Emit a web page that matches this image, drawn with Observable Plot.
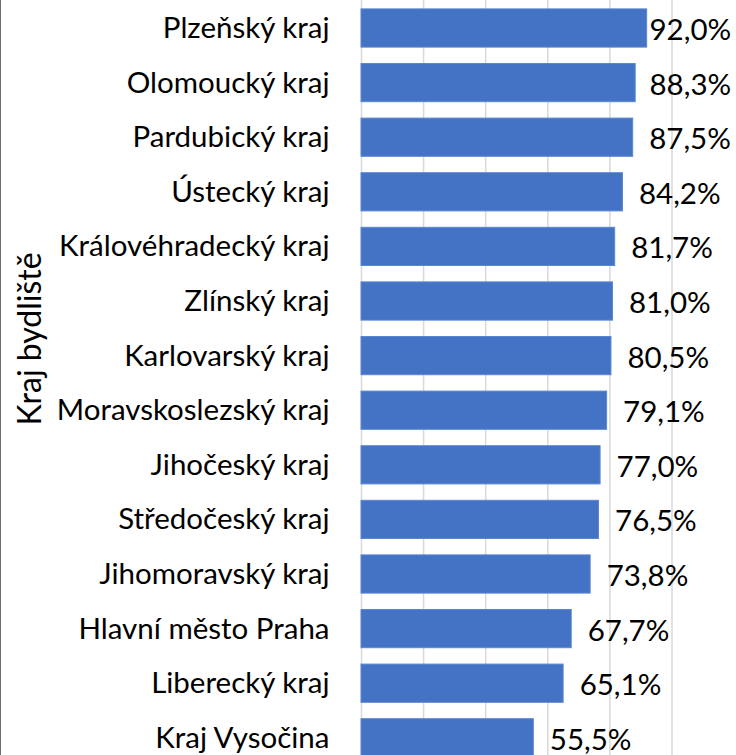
<!DOCTYPE html>
<html><head><meta charset="utf-8">
<script src="https://cdn.jsdelivr.net/npm/d3@7"></script>
<script src="https://cdn.jsdelivr.net/npm/@observablehq/plot@0.6"></script>
<style>
html,body{margin:0;padding:0;background:#fff;}
#wrap{position:relative;width:736px;height:755px;overflow:hidden;}
#edge{position:absolute;left:0;top:0;width:1px;height:755px;background:#6e6e6e;}
#wrap svg{display:block;}
</style></head><body>
<div id="wrap"><div id="edge"></div></div>
<script>
const regions = ["Plzeňský kraj","Olomoucký kraj","Pardubický kraj","Ústecký kraj","Královéhradecký kraj","Zlínský kraj","Karlovarský kraj","Moravskoslezský kraj","Jihočeský kraj","Středočeský kraj","Jihomoravský kraj","Hlavní město Praha","Liberecký kraj","Kraj Vysočina"];
const shares = [92.0, 88.3, 87.5, 84.2, 81.7, 81.0, 80.5, 79.1, 77.0, 76.5, 73.8, 67.7, 65.1, 55.5];
const gridTicks = [0, 20, 40, 60, 80, 100];
const axisTitle = "Kraj bydliště";

const fmt = v => v.toFixed(1).replace(".", ",") + "%";
const data = regions.map((r, i) => ({region: r, value: shares[i], label: fmt(shares[i])}));

const labelGap = 5.15;   // ~16px gap after bar end
const labelMax = 92.75;  // keep the longest label inside the chart area

const chart = Plot.plot({
  width: 736, height: 755,
  marginLeft: 361, marginRight: 64.5, marginTop: 0, marginBottom: 0,
  style: {fontFamily: "Lato, sans-serif", background: "transparent", color: "#000"},
  x: {domain: [0, 100], axis: null},
  y: {domain: regions, range: [0.7, 765.1], paddingInner: 0.3, paddingOuter: 0.15, round: false, axis: null},
  marks: [
    Plot.gridX(gridTicks, {stroke: "#d9d9d9", strokeOpacity: 1, strokeWidth: 1.5}),
    Plot.barX(data, {x: "value", y: "region", fill: "#4472C4", stroke: "#5b87d2", strokeWidth: 1}),
    Plot.axisY({tickSize: 0, tickPadding: 32, fontSize: 29.5, label: null, fill: "#000"}),
    Plot.text(data, {x: d => Math.min(d.value + labelGap, labelMax), y: "region", text: "label", textAnchor: "start", fontSize: 29.5, dy: 2, fill: "#000"}),
    Plot.text([axisTitle], {frameAnchor: "left", rotate: -90, textAnchor: "middle", fontSize: 32, dx: -331, dy: -39, fill: "#000"})
  ]
});
document.getElementById("wrap").appendChild(chart);
</script>
</body></html>
